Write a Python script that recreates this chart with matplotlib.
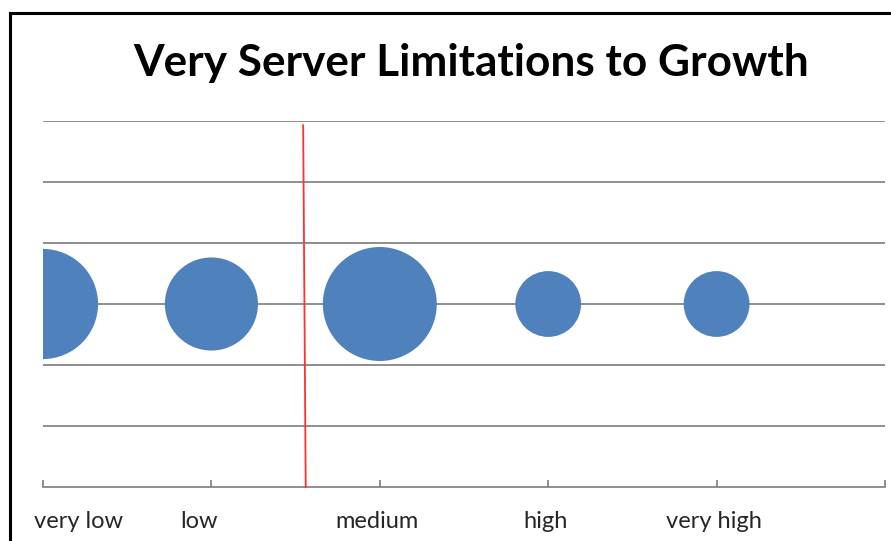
import matplotlib
matplotlib.use("Agg")
import matplotlib.pyplot as plt
import matplotlib.transforms as mtransforms
from matplotlib.lines import Line2D

categories = ["very low", "low", "medium", "high", "very high"]
x_pos = [0, 1, 2, 3, 4]
y_vals = [3, 3, 3, 3, 3]
bubble_vals = [14, 10, 15, 5, 5]
red_line_x = [1.545, 1.56]
red_line_y = [5.93, 0]

W, H, DPI = 891, 541, 100
fig = plt.figure(figsize=(W / DPI, H / DPI), dpi=DPI)
ax = fig.add_axes([43 / W, 1 - 487 / H, 842 / W, 366 / H])

# bubble sizing: max value -> radius 57 px
max_r_pt = 57 * 72 / DPI
sizes = [(v / max(bubble_vals)) * (2 * max_r_pt) ** 2 for v in bubble_vals]

grid_c = "#868686"
ax.set_xlim(0, 5)
ax.set_ylim(0, 6)
for gy in range(1, 7):
    ax.axhline(gy, color=grid_c, lw=1.3, zorder=1)

ax.scatter(x_pos, y_vals, s=sizes, color="#4F81BD", edgecolor="none", zorder=3)
ax.plot(red_line_x, red_line_y, color="#FF3030", lw=1.3, zorder=4, clip_on=False)

for s in ["left", "right", "top"]:
    ax.spines[s].set_visible(False)
ax.spines["bottom"].set_color(grid_c)
ax.spines["bottom"].set_linewidth(1.3)
ax.set_yticks([])
ax.set_xticks([0, 1, 2, 3, 4, 5])
ax.set_xticklabels(categories + [""], family="Lato", fontsize=17, color="#262626")
ax.tick_params(axis="x", direction="in", length=5, width=1.3, color=grid_c, pad=17)
lbls = ax.get_xticklabels()
lbls[0].set_transform(lbls[0].get_transform() + mtransforms.ScaledTranslation(35 / DPI, 0, fig.dpi_scale_trans))
lbls[1].set_transform(lbls[1].get_transform() + mtransforms.ScaledTranslation(-12 / DPI, 0, fig.dpi_scale_trans))
for l in lbls[2:]:
    l.set_transform(l.get_transform() + mtransforms.ScaledTranslation(-3 / DPI, 0, fig.dpi_scale_trans))

fig.text(471 / W, 1 - 63 / H, "Very Server Limitations to Growth", ha="center", va="center",
         family="Lato", fontweight="bold", fontsize=31.8, color="#000000")

# outer frame (top and left edges)
fig.add_artist(Line2D([10 / W, 10 / W], [0, 1 - 13 / H], color="black", lw=2.2, transform=fig.transFigure))
fig.add_artist(Line2D([10 / W, 1], [1 - 13 / H, 1 - 13 / H], color="black", lw=2.2, transform=fig.transFigure))

fig.savefig("out.png", dpi=DPI)
